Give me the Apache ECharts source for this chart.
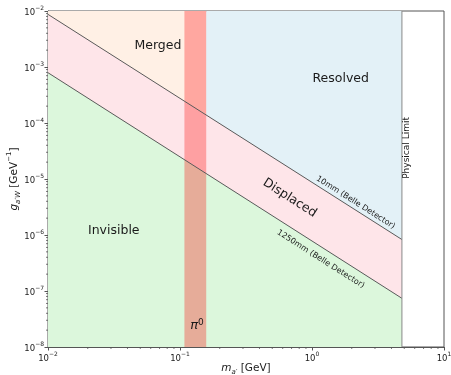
<!DOCTYPE html>
<html><head><meta charset="utf-8">
<script src="https://cdn.jsdelivr.net/npm/echarts@6/dist/echarts.min.js"></script>
<style>html,body{margin:0;padding:0;background:#fff}#chart{width:451px;height:375px}</style>
</head><body><div id="chart"></div>
<script>
// ---- data ----
const massRange = [0.01, 10];            // GeV
const couplingRange = [1e-8, 1e-2];      // GeV^-1
const line10mmMass = [0.01, 4.8];
const line10mmCoupling = [8.7e-3, 8.3e-7];
const line1250mmMass = [0.01, 4.8];
const line1250mmCoupling = [7.9e-4, 7.4e-8];
const pionBandMass = [0.108, 0.158];
const physicalLimitMass = 4.8;
const mergedResolvedSplitMass = 0.158;
const regionNames = ['Merged', 'Resolved', 'Displaced', 'Invisible', 'π0'];
const lineLabels = ['10mm (Belle Detector)', '1250mm (Belle Detector)', 'Physical Limit'];

// ---- build ----
const FONT = 'DejaVu Sans';
const yB = couplingRange[0], yT = couplingRange[1], x0 = massRange[0];
const split = mergedResolvedSplitMass, lim = physicalLimitMass;
const regions = [
  { color: '#fff0e5', pts: [[x0, yT], [split, yT], [split, yB], [x0, yB]] },
  { color: '#e3f1f7', pts: [[split, yT], [lim, yT], [lim, yB], [split, yB]] },
  { color: '#fee5e9', pts: [[line10mmMass[0], line10mmCoupling[0]], [line10mmMass[1], line10mmCoupling[1]],
                             [line1250mmMass[1], line1250mmCoupling[1]], [line1250mmMass[0], line1250mmCoupling[0]]] },
  { color: '#dcf7dc', pts: [[line1250mmMass[0], line1250mmCoupling[0]], [line1250mmMass[1], line1250mmCoupling[1]], [lim, yB], [x0, yB]] },
  { color: 'rgba(255,0,0,0.3)', pts: [[pionBandMass[0], yT], [pionBandMass[1], yT], [pionBandMass[1], yB], [pionBandMass[0], yB]] }
];

function minorValues(lo, hi) {
  const out = [];
  for (let e = Math.round(Math.log10(lo)); e < Math.round(Math.log10(hi)); e++)
    for (let k = 2; k <= 9; k++) out.push(k * Math.pow(10, e));
  return out;
}
const xMinor = minorValues(massRange[0], massRange[1]);
const yMinor = minorValues(couplingRange[0], couplingRange[1]);

const annotations = [
  { text: regionNames[0], at: [0.068, 2.43e-3], size: 12.5 },
  { text: regionNames[1], at: [1.65, 6.15e-4], size: 12.5 },
  { text: regionNames[2], at: [0.678, 4.57e-6], size: 12.5, along: true },
  { text: regionNames[3], at: [0.0315, 1.19e-6], size: 12.5 },
  { text: lineLabels[0], at: [2.14, 3.8e-6], size: 8, along: true },
  { text: lineLabels[1], at: [1.164, 3.7e-7], size: 8, along: true },
  { text: lineLabels[2], at: [5.19, 3.59e-5], size: 9, rot: Math.PI / 2 },
  { text: '{pi|π}{s|0}', at: [0.1346, 2.44e-8], size: 13, rich: true }
];

const tickLabel = v => {
  const e = Math.round(Math.log10(v));
  return '{b|10}{s|' + (e < 0 ? '−' : '') + Math.abs(e) + '}';
};
const tickRich = {
  b: { fontFamily: FONT, fontSize: 8.5, color: '#222', verticalAlign: 'bottom', lineHeight: 12 },
  s: { fontFamily: FONT, fontSize: 6, color: '#222', verticalAlign: 'top', lineHeight: 12 }
};
const nameRich = {
  n: { fontFamily: FONT, fontSize: 10.5, color: '#222', verticalAlign: 'middle', lineHeight: 16 },
  ni: { fontFamily: FONT, fontSize: 10.5, fontStyle: 'italic', color: '#222', verticalAlign: 'middle', lineHeight: 16 },
  sub: { fontFamily: FONT, fontSize: 7, fontStyle: 'italic', color: '#222', verticalAlign: 'bottom', lineHeight: 16 },
  sup: { fontFamily: FONT, fontSize: 7, color: '#222', verticalAlign: 'top', lineHeight: 16 }
};
const axisColor = '#555';

const chart = echarts.init(document.getElementById('chart'), null, { renderer: 'canvas' });
chart.setOption({
  animation: false,
  grid: { left: 48, right: 7, top: 11, bottom: 28, containLabel: false, outerBoundsMode: 'none',
          show: true, borderColor: axisColor, borderWidth: 1, backgroundColor: 'transparent' },
  xAxis: {
    type: 'log', logBase: 10, min: massRange[0], max: massRange[1],
    axisLine: { show: true, lineStyle: { color: axisColor } },
    axisTick: { show: true, length: 3.5, lineStyle: { color: axisColor } },
    axisLabel: { formatter: tickLabel, rich: tickRich, margin: 4 },
    splitLine: { show: false },
    name: '{ni|m}{sub|a′} {n|[GeV]}', nameLocation: 'middle', nameGap: 13, nameMoveOverlap: false,
    nameTextStyle: { rich: nameRich }
  },
  yAxis: {
    type: 'log', logBase: 10, min: couplingRange[0], max: couplingRange[1],
    axisLine: { show: true, lineStyle: { color: axisColor } },
    axisTick: { show: true, length: 3.5, lineStyle: { color: axisColor } },
    axisLabel: { formatter: tickLabel, rich: tickRich, margin: 4 },
    splitLine: { show: false },
    name: '{ni|g}{sub|a′W} {n|[GeV}{sup|−1}{n|]}', nameLocation: 'middle', nameGap: 26, nameRotate: 90, nameMoveOverlap: false,
    nameTextStyle: { rich: nameRich }
  },
  series: [
    {
      type: 'custom', z: 1, silent: true,
      data: regions.map((r, i) => [r.pts[0][0], r.pts[0][1], i]),
      encode: { x: 0, y: 1 },
      renderItem: (params, api) => {
        const r = regions[api.value(2)];
        return { type: 'polygon', shape: { points: r.pts.map(p => api.coord(p)) }, style: { fill: r.color } };
      }
    },
    {
      type: 'line', z: 3, symbol: 'none', silent: true,
      data: line10mmMass.map((m, i) => [m, line10mmCoupling[i]]),
      lineStyle: { color: '#5a5a5a', width: 1 }
    },
    {
      type: 'line', z: 3, symbol: 'none', silent: true,
      data: line1250mmMass.map((m, i) => [m, line1250mmCoupling[i]]),
      lineStyle: { color: '#5a5a5a', width: 1 }
    },
    {
      type: 'line', z: 3, symbol: 'none', silent: true,
      data: [[physicalLimitMass, couplingRange[0]], [physicalLimitMass, couplingRange[1]]],
      lineStyle: { color: '#8a8a8a', width: 1 }
    },
    {
      type: 'custom', z: 5, silent: true, clip: false,
      data: xMinor.map(v => [v, couplingRange[0]]),
      encode: { x: 0, y: 1 },
      renderItem: (params, api) => {
        const p = api.coord([api.value(0), api.value(1)]);
        return { type: 'line', shape: { x1: p[0], y1: p[1], x2: p[0], y2: p[1] + 2 }, style: { stroke: axisColor, lineWidth: 0.8 } };
      }
    },
    {
      type: 'custom', z: 5, silent: true, clip: false,
      data: yMinor.map(v => [massRange[0], v]),
      encode: { x: 0, y: 1 },
      renderItem: (params, api) => {
        const p = api.coord([api.value(0), api.value(1)]);
        return { type: 'line', shape: { x1: p[0], y1: p[1], x2: p[0] - 2, y2: p[1] }, style: { stroke: axisColor, lineWidth: 0.8 } };
      }
    },
    {
      type: 'custom', z: 6, silent: true, clip: false,
      data: annotations.map((a, i) => [a.at[0], a.at[1], i]),
      encode: { x: 0, y: 1 },
      renderItem: (params, api) => {
        const a = annotations[api.value(2)];
        const p = api.coord([api.value(0), api.value(1)]);
        let rot = a.rot || 0;
        if (a.along) {
          const p0 = api.coord([line10mmMass[0], line10mmCoupling[0]]);
          const p1 = api.coord([line10mmMass[1], line10mmCoupling[1]]);
          rot = Math.atan2(-(p1[1] - p0[1]), p1[0] - p0[0]);
        }
        const style = {
          text: a.text, fill: '#1a1a1a', align: 'center', verticalAlign: 'middle',
          fontFamily: FONT, fontSize: a.size
        };
        if (a.rich) {
          style.rich = {
            pi: { fontFamily: FONT, fontSize: 13, fontStyle: 'italic', fill: '#1a1a1a', verticalAlign: 'bottom', lineHeight: 14 },
            s: { fontFamily: FONT, fontSize: 9, fill: '#1a1a1a', verticalAlign: 'top', lineHeight: 14 }
          };
        }
        return { type: 'text', x: p[0], y: p[1], rotation: rot, style: style };
      }
    }
  ]
});
</script></body></html>
